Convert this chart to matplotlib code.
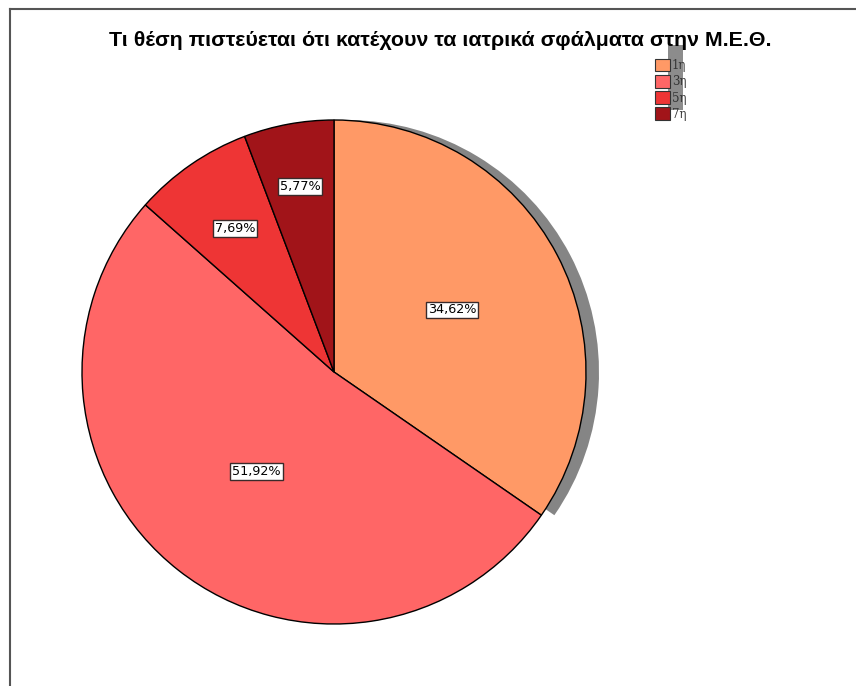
import matplotlib.pyplot as plt
import matplotlib.patches as pt
from matplotlib.lines import Line2D
import numpy as np

# answers to "position of medical errors in the ICU"
categories = ['1η', '3η', '5η', '7η']
percent = [34.62, 51.92, 7.69, 5.77]
colors = ['#FF9966', '#FF6666', '#EE3535', '#A11419']
title = 'Τι θέση πιστεύεται ότι κατέχουν τα ιατρικά σφάλματα στην Μ.Ε.Θ.'

W, H = 856, 686
fig = plt.figure(figsize=(W / 100, H / 100), dpi=100)
ax = fig.add_axes([0, 0, 1, 1])

cx, cy, R = 334, H - 372, 252

# shadow behind the first slice
first_angle = 360 * percent[0] / sum(percent)
ax.add_patch(pt.Wedge((cx + 13, cy), R, 90 - first_angle, 90,
                      facecolor='#858585', edgecolor='none', zorder=1))

wedges, _ = ax.pie(percent, colors=colors, startangle=90, counterclock=False,
                   center=(cx, cy), radius=R, frame=True,
                   wedgeprops=dict(edgecolor='black', linewidth=1.0, zorder=2))
ax.set_xlim(0, W)
ax.set_ylim(0, H)
ax.set_aspect('equal')
ax.axis('off')

# value labels inside slices
label_r = [0.53, 0.50, 0.69, 0.75]
for w, v, r in zip(wedges, percent, label_r):
    mid = np.deg2rad((w.theta1 + w.theta2) / 2)
    ax.text(cx + r * R * np.cos(mid), cy + r * R * np.sin(mid),
            ('%.2f%%' % v).replace('.', ','), ha='center', va='center',
            fontsize=9.2, family='DejaVu Sans', zorder=5,
            bbox=dict(boxstyle='square,pad=0.15', facecolor='white',
                      edgecolor='#3a2a2a', linewidth=1.0))

ax.text(440, H - 40, title, ha='center', va='center', fontsize=15.4,
        fontweight='bold', family='Liberation Sans', zorder=6)

# legend with its gray shadow block
ax.add_patch(pt.Rectangle((668, H - 110), 15, 65, facecolor='#8c8c8c',
                          edgecolor='none', zorder=3))
handles = [pt.Patch(facecolor=c, edgecolor='#333333', linewidth=0.8) for c in colors]
leg = ax.legend(handles, categories, loc='upper left',
                bbox_to_anchor=(655 / W, 1 - 59 / H), frameon=False,
                borderpad=0, borderaxespad=0, handlelength=1.25, handleheight=1.25,
                handletextpad=0.2, labelspacing=0.25,
                prop=dict(family='DejaVu Serif', size=8.5))
for t in leg.get_texts():
    t.set_color('#333333')
leg.set_zorder(7)

# outer frame lines
ax.add_line(Line2D([10, 10], [0, H - 9], color='#555555', linewidth=1.5))
ax.add_line(Line2D([10, W], [H - 9, H - 9], color='#555555', linewidth=1.5))

fig.savefig('out.png', dpi=100)
